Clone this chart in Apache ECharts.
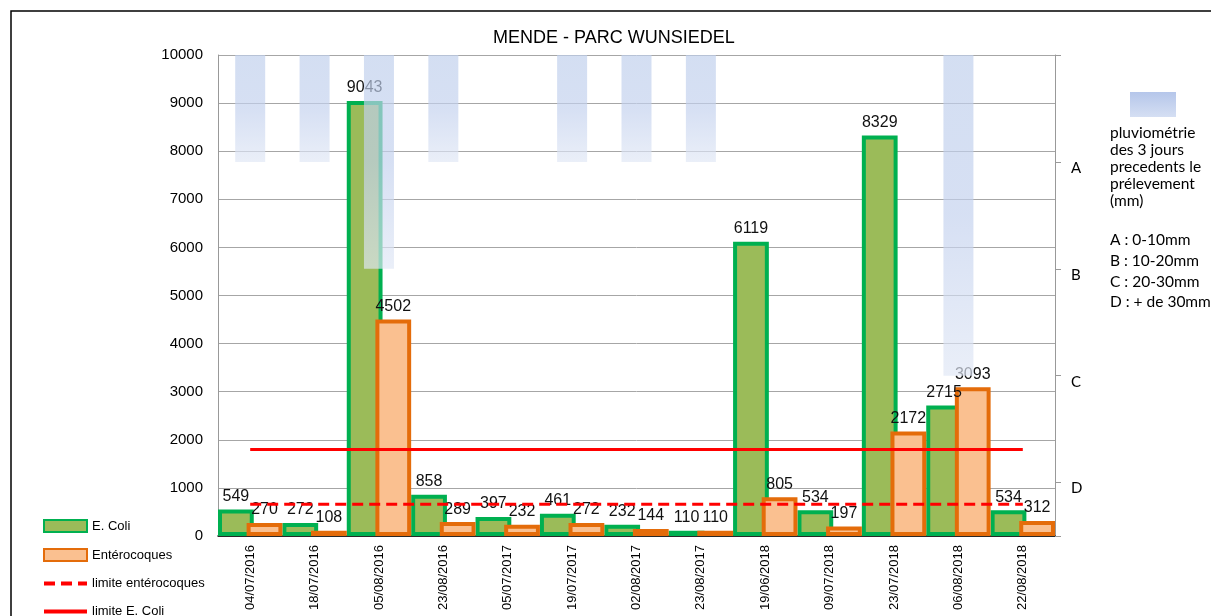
<!DOCTYPE html>
<html>
<head>
<meta charset="utf-8">
<script src="https://cdn.jsdelivr.net/npm/echarts@6/dist/echarts.min.js"></script>
<style>
  html, body { margin: 0; padding: 0; background: #fff; }
  #chart { width: 1211px; height: 616px; }
</style>
</head>
<body>
<div id="chart"></div>
<script>
const dates = ['04/07/2016', '18/07/2016', '05/08/2016', '23/08/2016', '05/07/2017', '19/07/2017',
  '02/08/2017', '23/08/2017', '19/06/2018', '09/07/2018', '23/07/2018', '06/08/2018', '22/08/2018']
const ecoli = [549, 272, 9043, 858, 397, 461, 232, 110, 6119, 534, 8329, 2715, 534]
const entero = [270, 108, 4502, 289, 232, 272, 144, 110, 805, 197, 2172, 3093, 312]
const limitEntero = [660, 660, 660, 660, 660, 660, 660, 660, 660, 660, 660, 660, 660]
const limitEcoli = [1800, 1800, 1800, 1800, 1800, 1800, 1800, 1800, 1800, 1800, 1800, 1800, 1800]
// pluviométrie class: 1 = A, 2 = B, 3 = C, 4 = D (null = no rain shown)
const rain = [1, 1, 2, 1, null, 1, 1, 1, null, null, null, 3, null]
const rainLabels = ['', 'A', 'B', 'C', 'D']

const font = 'Liberation Sans, Arial, sans-serif'
const rainGradient = new echarts.graphic.LinearGradient(0, 0, 0, 1, [
  { offset: 0, color: '#bfcfec' },
  { offset: 0.5, color: '#c3d1ee' },
  { offset: 1, color: '#e0e7f5' },
])
const noSymbol = { color: 'rgba(0,0,0,0)', borderColor: 'rgba(0,0,0,0)', borderWidth: 0 }

const chart = echarts.init(document.getElementById('chart'))

chart.setOption({
  animation: false,
  backgroundColor: '#fff',
  title: {
    text: 'MENDE - PARC WUNSIEDEL',
    left: 488,
    top: 24,
    textStyle: { fontFamily: font, fontSize: 18, fontWeight: 'normal', color: '#000' },
  },
  legend: {
    orient: 'vertical',
    left: 37,
    top: 514,
    height: 140,
    itemWidth: 43,
    itemHeight: 12,
    itemGap: 15,
    lineStyle: { width: 4 },
    data: [
      { name: 'E. Coli', icon: 'rect' },
      { name: 'Entérocoques', icon: 'rect' },
      'limite entérocoques',
      'limite E. Coli',
    ],
    textStyle: { fontFamily: font, fontSize: 13, color: '#000' },
  },
  grid: { left: 218, right: 156, top: 55, bottom: 80 },
  xAxis: [
    {
      type: 'category',
      data: dates,
      axisLine: { lineStyle: { color: '#000', width: 1.5 } },
      axisTick: { show: false },
      axisLabel: { rotate: 90, margin: 9, fontFamily: font, fontSize: 13, color: '#000' },
    },
    { type: 'category', data: dates, show: false },
  ],
  yAxis: [
    {
      type: 'value',
      min: 0,
      max: 10000,
      interval: 1000,
      axisLine: { show: true, lineStyle: { color: '#999' } },
      axisTick: { show: false },
      axisLabel: {
        margin: 15,
        fontFamily: font,
        fontSize: 15,
        color: '#000',
        formatter: (v) => String(v),
      },
      splitLine: { lineStyle: { color: '#a6a6a6' } },
    },
    {
      type: 'value',
      inverse: true,
      min: 0,
      max: 4.5,
      interval: 1,
      position: 'right',
      axisLine: { show: true, lineStyle: { color: '#999' } },
      axisTick: { show: true, length: 6, lineStyle: { color: '#999' } },
      axisLabel: {
        margin: 16,
        verticalAlign: 'top',
        lineHeight: 12,
        fontFamily: 'Lato, sans-serif',
        fontSize: 15,
        color: '#000',
        formatter: (v) => rainLabels[v] || '',
      },
      splitLine: { show: false },
    },
  ],
  series: [
    {
      name: 'E. Coli',
      type: 'bar',
      data: ecoli,
      barCategoryGap: '0%',
      barGap: '-20%',
      itemStyle: { color: '#9bbb59', borderColor: '#00b050', borderWidth: 4 },
      label: { show: true, position: 'top', distance: 5, fontFamily: font, fontSize: 16, color: '#111' },
      z: 2,
    },
    {
      name: 'Entérocoques',
      type: 'bar',
      data: entero,
      itemStyle: { color: '#fac090', borderColor: '#e46c0a', borderWidth: 4 },
      label: { show: true, position: 'top', distance: 5, fontFamily: font, fontSize: 16, color: '#111' },
      z: 2,
    },
    {
      name: 'pluviométrie',
      type: 'bar',
      xAxisIndex: 1,
      yAxisIndex: 1,
      data: rain,
      barWidth: 30,
      itemStyle: { color: rainGradient, opacity: 0.68 },
      z: 3,
    },
    {
      name: 'limite entérocoques',
      type: 'line',
      data: limitEntero,
      symbol: 'none',
      lineStyle: { color: '#ff0000', width: 3, type: [11, 6] },
      itemStyle: noSymbol,
      z: 4,
    },
    {
      name: 'limite E. Coli',
      type: 'line',
      data: limitEcoli,
      symbol: 'none',
      lineStyle: { color: '#ff0000', width: 3 },
      itemStyle: noSymbol,
      z: 4,
    },
  ],
  graphic: [
    {
      type: 'rect',
      shape: { x: 11, y: 11, width: 1400, height: 800 },
      style: { fill: 'none', stroke: '#000', lineWidth: 1.5 },
      silent: true,
    },
    {
      type: 'rect',
      shape: { x: 1130, y: 92, width: 46, height: 25 },
      style: {
        fill: new echarts.graphic.LinearGradient(0, 0, 0, 1, [
          { offset: 0, color: '#b5c6ea' },
          { offset: 1, color: '#d5dff3' },
        ]),
      },
    },
    {
      type: 'text',
      x: 1110,
      y: 124,
      style: {
        text: 'pluviométrie\ndes 3 jours\nprecedents le\nprélevement\n(mm)',
        fontFamily: 'Lato, sans-serif',
        fontSize: 15.5,
        lineHeight: 17,
        fill: '#000',
      },
    },
    {
      type: 'text',
      x: 1110,
      y: 230,
      style: {
        text: 'A : 0-10mm\nB : 10-20mm\nC : 20-30mm\nD : + de 30mm',
        fontFamily: 'Lato, sans-serif',
        fontSize: 15.5,
        lineHeight: 20.7,
        fill: '#000',
      },
    },
  ],
})
</script>
</body>
</html>
